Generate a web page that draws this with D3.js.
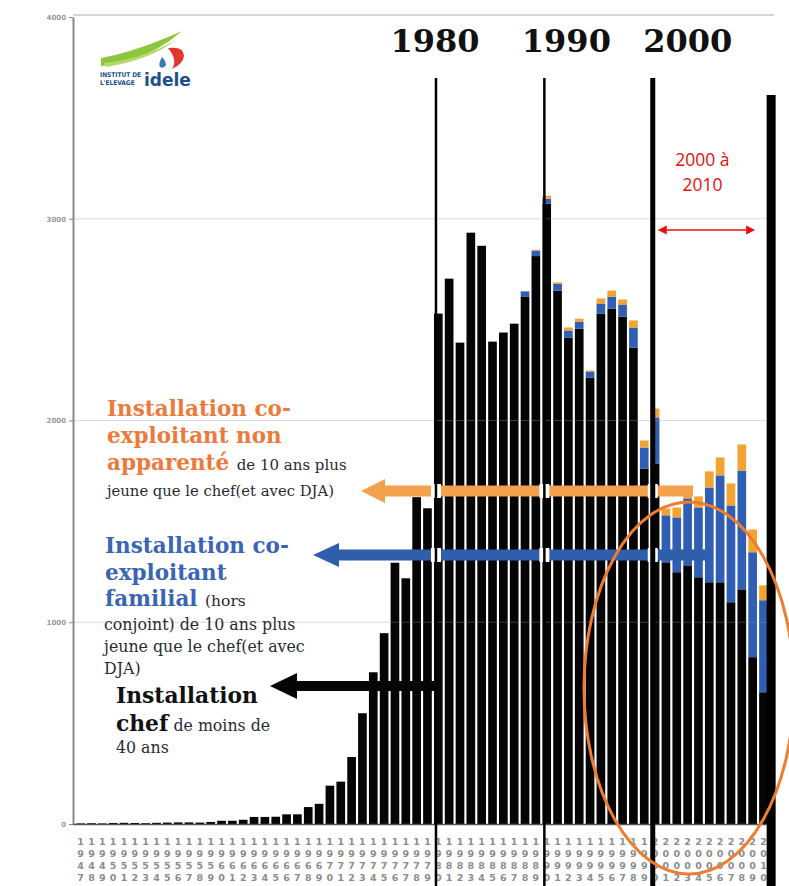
<!DOCTYPE html>
<html>
<head>
<meta charset="utf-8">
<script src="https://cdn.jsdelivr.net/npm/d3@7"></script>
<style>
  body { margin: 0; background: #fff; }
  svg { display: block; }
</style>
</head>
<body>
<div class="chart"></div>
<script>
// data
const years = [1947, 1948, 1949, 1950, 1951, 1952, 1953, 1954, 1955, 1956, 1957, 1958, 1959,
    1960, 1961, 1962, 1963, 1964, 1965, 1966, 1967, 1968, 1969,
    1970, 1971, 1972, 1973, 1974, 1975, 1976, 1977, 1978, 1979,
    1980, 1981, 1982, 1983, 1984, 1985, 1986, 1987, 1988, 1989,
    1990, 1991, 1992, 1993, 1994, 1995, 1996, 1997, 1998, 1999,
    2000, 2001, 2002, 2003, 2004, 2005, 2006, 2007, 2008, 2009, 2010];

// installation chef de moins de 40 ans
const chef = [3, 4, 3, 5, 6, 5, 4, 6, 7, 8, 8, 7, 10,
    16, 16, 21, 35, 35, 36, 48, 48, 84, 100,
    190, 210, 332, 549, 752, 946, 1295, 1218, 1620, 1565,
    2530, 2703, 2386, 2931, 2866, 2391, 2436, 2480, 2615, 2815,
    3074, 2644, 2411, 2455, 2213, 2530, 2554, 2515, 2361, 1762,
    1787, 1297, 1248, 1282, 1223, 1198, 1198, 1099, 1163, 827, 653];

// co-exploitant familial
const familial = [0, 0, 0, 0, 0, 0, 0, 0, 0, 0, 0, 0, 0,
    0, 0, 0, 0, 0, 0, 0, 0, 0, 0,
    0, 0, 0, 0, 0, 0, 0, 0, 0, 0,
    0, 0, 0, 0, 0, 0, 0, 0, 25, 27,
    25, 33, 35, 35, 30, 50, 60, 60, 100, 104,
    228, 233, 272, 332, 346, 470, 530, 480, 589, 520, 456];

// co-exploitant non apparente
const nonApparente = [0, 0, 0, 0, 0, 0, 0, 0, 0, 0, 0, 0, 0,
    0, 0, 0, 0, 0, 0, 0, 0, 0, 0,
    0, 0, 0, 0, 0, 0, 0, 0, 0, 0,
    0, 0, 0, 0, 0, 0, 0, 0, 0, 5,
    15, 8, 15, 15, 5, 25, 30, 25, 35, 35,
    44, 34, 49, 15, 55, 80, 89, 109, 129, 113, 74];

const yTicks = [0, 1000, 2000, 3000, 4000];
const decades = [1980, 1990, 2000];

const rows = years.map((y, i) => ({
    year: y, chef: chef[i], familial: familial[i], nonApparente: nonApparente[i]
}));
const keys = ['chef', 'familial', 'nonApparente'];
const colors = { chef: '#050505', familial: '#2f5eb3', nonApparente: '#f2a332' };

const width = 789;
const height = 886;

const svg = d3.select('.chart')
    .append('svg')
    .attr('width', width)
    .attr('height', height);

// scales
const xScale = d3.scaleBand()
    .domain(years)
    .range([75.2, 768.9])
    .paddingInner(0.2)
    .paddingOuter(0.1);

const yScale = d3.scaleLinear()
    .domain([0, 4000])
    .range([824, 17]);

const xPos = y => xScale(y);

// frame
svg.append('line')
    .attr('x1', 73).attr('x2', 774)
    .attr('y1', 15).attr('y2', 15)
    .style('stroke', '#c8c8c8')
    .style('stroke-width', 1.5);

// y axis
const yAxis = d3.axisLeft(yScale)
    .tickValues(yTicks)
    .tickFormat(d3.format('d'))
    .tickSize(4)
    .tickSizeOuter(0);

const yAxisDraw = svg.append('g')
    .attr('class', 'y-axis')
    .attr('transform', 'translate(73,0)')
    .call(yAxis);
yAxisDraw.select('.domain').style('stroke', '#8a8a8a').style('stroke-width', 2);
yAxisDraw.selectAll('.tick line').style('stroke', '#8a8a8a');
yAxisDraw.selectAll('.tick text')
    .style('font-family', 'DejaVu Sans')
    .style('font-size', '7px')
    .style('font-weight', 'bold')
    .style('fill', '#9a9a9a');

// stacked bars
const series = d3.stack().keys(keys)(rows);

svg.append('g')
    .attr('class', 'bars')
    .selectAll('g')
    .data(series)
    .enter()
    .append('g')
    .style('fill', d => colors[d.key])
    .selectAll('rect')
    .data(d => d.filter(p => p[1] > p[0]))
    .enter()
    .append('rect')
    .attr('x', d => xPos(d.data.year))
    .attr('width', xScale.bandwidth())
    .attr('y', d => yScale(d[1]))
    .attr('height', d => yScale(d[0]) - yScale(d[1]));

// gridlines over the bars
svg.append('g')
    .selectAll('line')
    .data(yTicks.filter(t => t > 0 && t < 4000))
    .enter()
    .append('line')
    .attr('x1', 74).attr('x2', 768)
    .attr('y1', d => yScale(d)).attr('y2', d => yScale(d))
    .style('stroke', '#9a9a9a')
    .style('stroke-opacity', 0.35)
    .style('stroke-width', 1);

// x axis baseline
svg.append('line')
    .attr('x1', 73).attr('x2', 770)
    .attr('y1', yScale(0) + 0.5).attr('y2', yScale(0) + 0.5)
    .style('stroke', '#555')
    .style('stroke-width', 1.5);

// year labels, one digit per row
const xLabels = svg.append('g').attr('class', 'x-labels');
years.forEach(y => {
    const digits = String(y).split('');
    xLabels.append('text')
        .attr('x', xPos(y) + xScale.bandwidth() / 2)
        .attr('text-anchor', 'middle')
        .style('font-family', 'DejaVu Sans')
        .style('font-size', '9.5px')
        .style('font-weight', 'bold')
        .style('fill', '#8c8c8c')
        .selectAll('tspan')
        .data(digits)
        .enter()
        .append('tspan')
        .attr('x', xPos(y) + xScale.bandwidth() / 2)
        .attr('y', (d, i) => 845 + i * 12)
        .text(d => d);
});

// arrows
const arrow = (yc, x0, x1, thick, head, headLen, color) => {
    svg.append('path')
        .attr('d', `M${x0},${yc} L${x0 + headLen},${yc - head} L${x0 + headLen},${yc - thick / 2}
            L${x1},${yc - thick / 2} L${x1},${yc + thick / 2} L${x0 + headLen},${yc + thick / 2}
            L${x0 + headLen},${yc + head} Z`)
        .style('fill', color);
};
arrow(491, 361, 693, 11, 12, 24, '#f4a14e');
arrow(555, 313, 705, 11, 12, 26, '#2f5eab');
arrow(686, 270, 437, 10, 13, 27, '#050505');

// white halo where decade lines cross the arrows
const lineX = y => xPos(y) + 2;
const bands = [[484, 498, 693], [548, 562, 705]];
decades.forEach(y => {
    bands.forEach(b => {
        if (lineX(y) < b[2]) {
            svg.append('rect')
                .attr('x', lineX(y) - 5).attr('width', 10)
                .attr('y', b[0]).attr('height', b[1] - b[0])
                .style('fill', '#fff');
        }
    });
});

// decade lines
decades.forEach(y => {
    svg.append('line')
        .attr('x1', lineX(y)).attr('x2', lineX(y))
        .attr('y1', 78).attr('y2', height)
        .style('stroke', '#000')
        .style('stroke-width', y === 2000 ? 5 : 2.5);
});

// decade titles
const titleOffset = { 1980: -1, 1990: 22, 2000: 35 };
svg.append('g')
    .selectAll('text')
    .data(decades)
    .enter()
    .append('text')
    .attr('x', d => lineX(d) + titleOffset[d])
    .attr('y', 52)
    .attr('text-anchor', 'middle')
    .style('font-family', 'DejaVu Serif')
    .style('font-weight', 'bold')
    .style('font-size', '32px')
    .style('fill', '#111')
    .text(d => d);

// right thick line
svg.append('line')
    .attr('x1', xPos(2010) + 12).attr('x2', xPos(2010) + 12)
    .attr('y1', 95).attr('y2', height)
    .style('stroke', '#000')
    .style('stroke-width', 9);

// 2000 a 2010 annotation
const redX0 = xPos(2000) + 7;
const redX1 = xPos(2010) - 4;
svg.append('text')
    .attr('text-anchor', 'middle')
    .style('font-family', 'Open Sans')
    .style('font-size', '17.5px')
    .style('fill', '#e8100c')
    .selectAll('tspan')
    .data(['2000 à', '2010'])
    .enter()
    .append('tspan')
    .attr('x', (redX0 + redX1) / 2 - 4)
    .attr('y', (d, i) => 166 + i * 25)
    .text(d => d);
svg.append('line')
    .attr('x1', redX0 + 8).attr('x2', redX1 - 8)
    .attr('y1', 230).attr('y2', 230)
    .style('stroke', '#e8100c')
    .style('stroke-width', 1.5);
svg.append('path')
    .attr('d', `M${redX0},230 l9,-4.5 l0,9 Z M${redX1},230 l-9,-4.5 l0,9 Z`)
    .style('fill', '#e8100c');

// orange ellipse
svg.append('ellipse')
    .attr('cx', 689).attr('cy', 688)
    .attr('rx', 105).attr('ry', 186)
    .style('fill', 'none')
    .style('stroke', '#ee7d31')
    .style('stroke-width', 3);

// annotation texts
const serif = 'DejaVu Serif';
const addLines = (lines) => {
    lines.forEach(l => {
        const t = svg.append('text')
            .attr('x', l.x)
            .attr('y', l.y)
            .style('font-family', serif);
        l.parts.forEach(p => {
            t.append('tspan')
                .style('font-size', p.size + 'px')
                .style('font-weight', p.bold ? 'bold' : 'normal')
                .style('fill', p.color)
                .text(p.text);
        });
    });
};
const orange = '#ec7a3d';
const blue = '#3a65b4';
const dark = '#2a2a33';
addLines([
    { x: 107, y: 416, parts: [{ text: 'Installation co-', size: 21.5, bold: true, color: orange }] },
    { x: 107, y: 443, parts: [{ text: 'exploitant non', size: 21.5, bold: true, color: orange }] },
    { x: 107, y: 470, parts: [{ text: 'apparenté ', size: 21.5, bold: true, color: orange },
        { text: 'de 10 ans plus', size: 15, bold: false, color: dark }] },
    { x: 107, y: 496, parts: [{ text: 'jeune que le chef(et avec DJA)', size: 14.8, bold: false, color: dark }] },

    { x: 105, y: 553, parts: [{ text: 'Installation co-', size: 21.5, bold: true, color: blue }] },
    { x: 105, y: 580, parts: [{ text: 'exploitant', size: 21.5, bold: true, color: blue }] },
    { x: 105, y: 606, parts: [{ text: 'familial ', size: 21.5, bold: true, color: blue },
        { text: ' (hors', size: 15.5, bold: false, color: dark }] },
    { x: 104, y: 630, parts: [{ text: 'conjoint) de 10 ans plus', size: 15.8, bold: false, color: dark }] },
    { x: 104, y: 652, parts: [{ text: 'jeune que le chef(et avec', size: 15.8, bold: false, color: dark }] },
    { x: 104, y: 674, parts: [{ text: 'DJA)', size: 15.8, bold: false, color: dark }] },

    { x: 116, y: 703, parts: [{ text: 'Installation', size: 21.8, bold: true, color: '#111' }] },
    { x: 116, y: 731, parts: [{ text: 'chef', size: 21.8, bold: true, color: '#111' },
        { text: ' de moins de', size: 15.8, bold: false, color: dark }] },
    { x: 116, y: 753, parts: [{ text: '40 ans', size: 15.8, bold: false, color: dark }] }
]);

// logo
const logo = svg.append('g').attr('class', 'logo');
logo.append('path')
    .attr('d', 'M101,58 Q135,52 182,31 Q158,52 130,60 Q112,65 101,66 Z')
    .style('fill', '#8cc63f');
logo.append('path')
    .attr('d', 'M104,63 Q140,60 176,40 Q150,60 106,67 Z')
    .style('fill', '#b5d96a');
logo.append('path')
    .attr('d', 'M168,48 Q184,46 184,56 Q183,64 172,69 Q178,60 168,48 Z')
    .style('fill', '#e3342f');
logo.append('path')
    .attr('d', 'M162,57 Q158,64 160,67 Q164,69 166,65 Q166,61 162,57 Z')
    .style('fill', '#3a78b8');
logo.append('text')
    .attr('x', 100).attr('y', 77)
    .style('font-family', 'DejaVu Sans Condensed')
    .style('font-size', '6.5px')
    .style('font-weight', 'bold')
    .style('fill', '#1d4f8c')
    .text('INSTITUT DE');
logo.append('text')
    .attr('x', 100).attr('y', 85)
    .style('font-family', 'DejaVu Sans Condensed')
    .style('font-size', '6.5px')
    .style('font-weight', 'bold')
    .style('fill', '#1d4f8c')
    .text("L'ELEVAGE");
logo.append('text')
    .attr('x', 144).attr('y', 86)
    .style('font-family', 'DejaVu Sans')
    .style('font-size', '17px')
    .style('font-weight', 'bold')
    .style('fill', '#1d4f8c')
    .text('idele');
</script>
</body>
</html>
